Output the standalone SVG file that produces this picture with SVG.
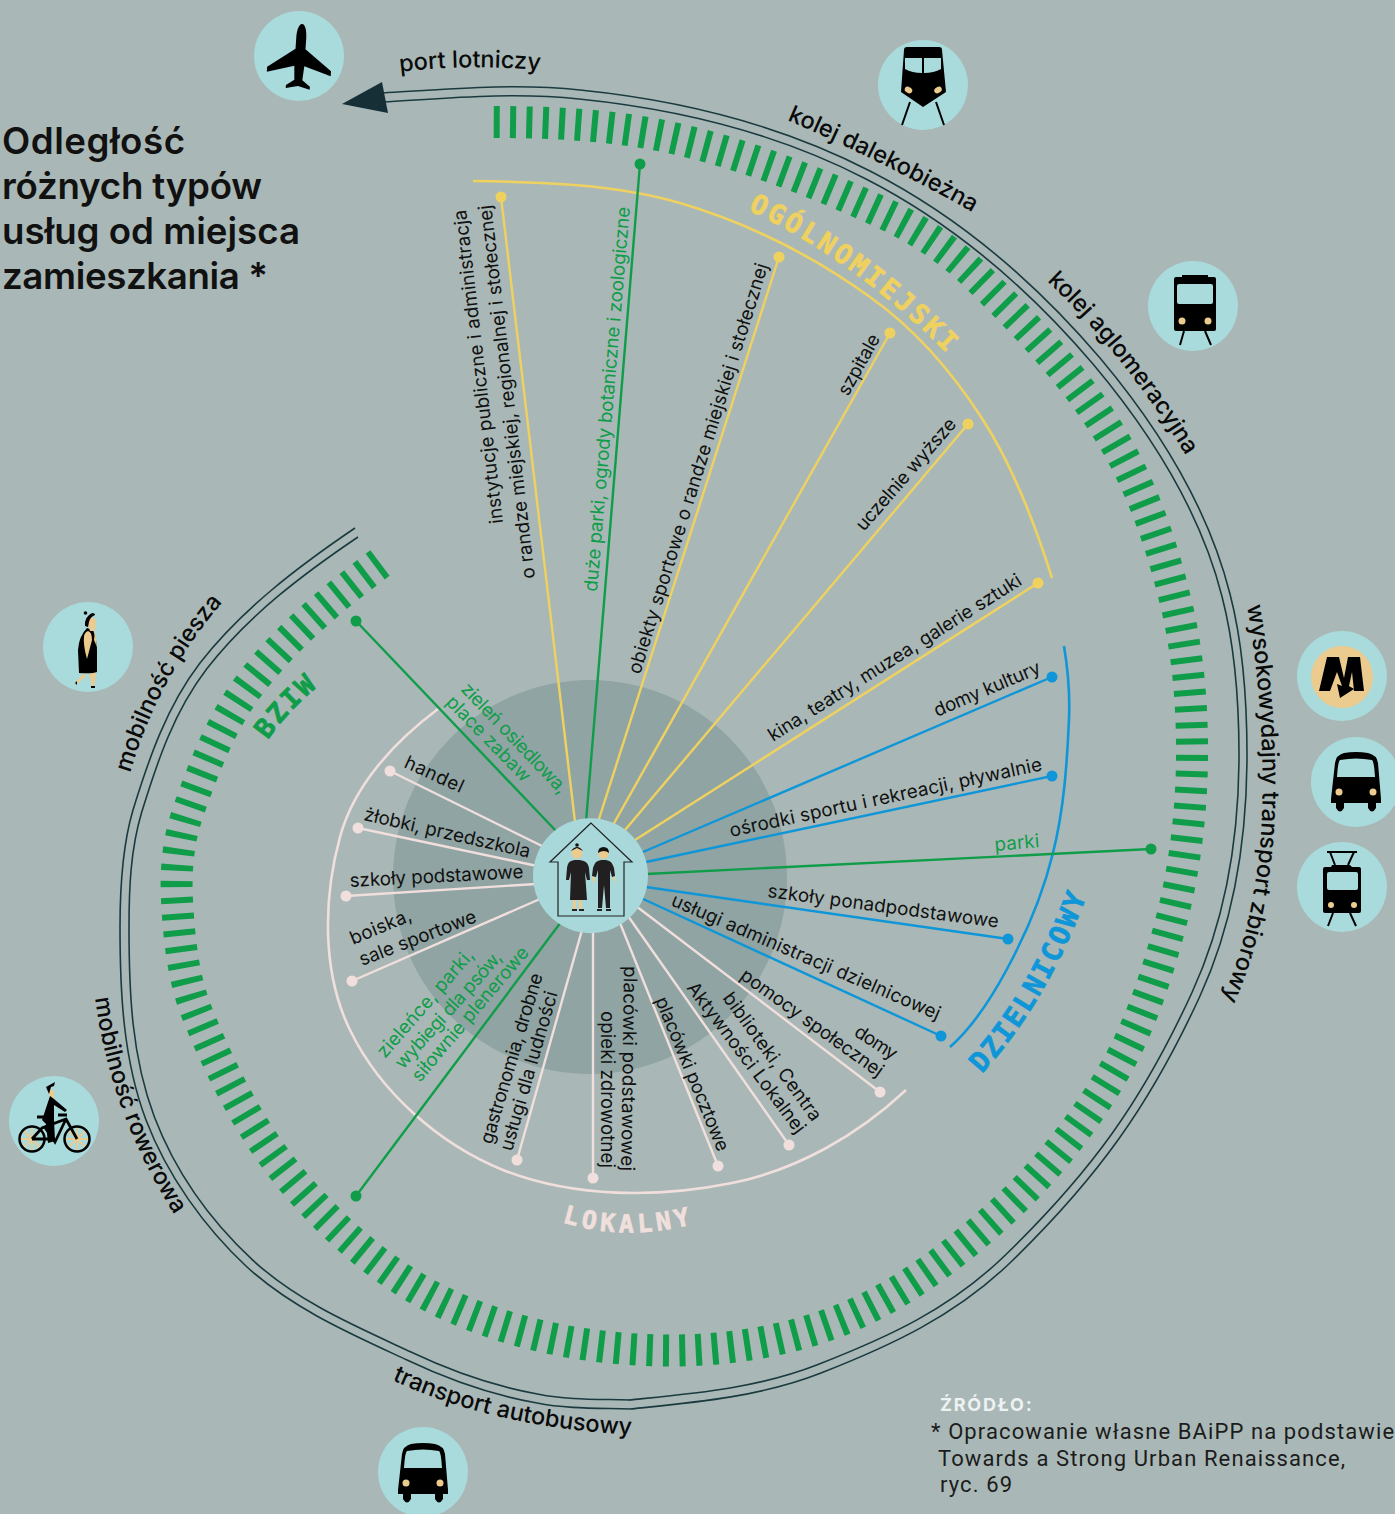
<svg xmlns="http://www.w3.org/2000/svg" width="1395" height="1514" viewBox="0 0 1395 1514">
<style>
text{font-family:"Inter","Noto Sans","Liberation Sans",sans-serif}
.l{font-size:18.8px;fill:#111}
.g{font-size:18.8px;fill:#0f9d4a}
.c{font-size:23.5px;fill:#0a0a0a;font-weight:500}
.t{font-size:36.7px;font-weight:600;fill:#111}
.r{font-family:"DejaVu Sans Mono","Liberation Mono",monospace;font-weight:700;stroke-width:.7}
.s{font-family:"Roboto","Liberation Sans",sans-serif;font-size:22px;fill:#1c1c1c;letter-spacing:1.1px}
.tr{fill:none;stroke:#1b3a40;stroke-width:1.6}
.cn line{stroke-width:2.4}
.ye{stroke:#efd160}.gr{stroke:#0f9d4a}.bl{stroke:#0f96d8}.pi{stroke:#f0dfdc}
.dy{fill:#efd160}.dg{fill:#0f9d4a}.db{fill:#0f96d8}.dp{fill:#f0dfdc}
.ic{fill:#a9dadc}.la{fill:#eccb8e}.k{fill:#000}
.kl{stroke:#000;stroke-width:2;fill:none}
</style>
<defs>
<path id="p-port" d="M400 72Q470 63 546 71"/>
<path id="p-dal" d="M787 120Q885 162 988 221"/>
<path id="p-agl" d="M1047 281Q1130 360 1196 472"/>
<path id="p-wys" d="M1247 606C1262 690 1268 800 1257 870C1250 920 1240 960 1220 1004"/>
<path id="p-pie" d="M130 773Q160 672 228 596"/>
<path id="p-row" d="M95 998Q112 1125 186 1232"/>
<path id="p-bus" d="M392 1380Q500 1430 642 1435"/>
<path id="p-ogo" d="M748 210Q860 263 955 362"/>
<path id="p-bzi" d="M268 740Q290 708 326 680"/>
<path id="p-lok" d="M562 1222Q628 1243 700 1222"/>
<path id="p-dzi" d="M982 1074Q1048 1002 1088 892"/>
<g id="bus">
<path class="k" d="M-25 22L-25 18L-21 -18Q-20 -26 -12 -28Q0 -30 12 -28Q21 -26 22 -18L25 18L25 22L20 22L20 27Q16 34 12 27L12 22L-12 22L-12 27Q-16 34 -20 27L-20 22Z"/>
<path class="ic" d="M-16 -21Q0 -24 16 -21Q18 -20 19 -4L-19 -4Q-18 -20 -16 -21Z"/>
<circle class="la" cx="-17" cy="11" r="3.5"/><circle class="la" cx="17" cy="11" r="3.5"/>
</g>
</defs>
<rect width="1395" height="1514" fill="#a9b8b6"/>
<circle id="inner-zone" cx="590" cy="877" r="197" fill="#90a4a3"/>

<g id="rings" fill="none">
<path id="ring" stroke="#0f9d4a" stroke-width="32" stroke-dasharray="6 10.3" d="M380 563C333 598 287 636 251 683C221 722 203 769 187 815C178 842 175.500 871 177 900C179 938 183 978 197 1013C221 1072 251 1131 292 1180C333 1229 384 1274 442 1302C505 1332 576 1347 646 1350C712 1353 780 1344 841 1320C903 1295 957 1253 1006 1208C1049 1168 1087 1119 1116 1068C1142 1022 1159 969 1172 918C1185 867 1191.500 812 1192 759C1192.500 705 1188 651 1175 599C1161 542 1141 484 1110 434C1074 375 1026 325 977 277C950 250 918 229 883 213C816 182 745 154 673 138C615 125 553 122 491 122"/>
<path class="tr" d="M383 93C449 89 515 83 580 90C679 100 781 125 870 171C958 216 1036 283 1100 358C1158 427 1208 507 1230 594C1243.500 646 1247 701 1247 755C1247 837 1234 922 1200 996C1150 1105 1098 1177 1013 1260C956 1316 890 1346 821 1373C760 1397 694 1402.500 630 1409"/>
<path class="tr" d="M383.500 102C449.500 98 514 92 579 99C678 109 777 133 866 179C954 224 1029 289 1093 364C1151 433 1200 509.500 1222 596.500C1235.500 648.500 1239 701 1239 755C1239 837 1226 918.500 1192 992.500C1142 1101.500 1092 1170.500 1007 1253.500C950 1309.500 887 1337.500 818 1364.500C757 1388.500 693 1393.500 629 1400"/>
<path class="tr" d="M355 528C299 566 242 609 200 663C167 706 149 758 133 810C122 847 120 888 120 927C120 992 123 1059 146 1120C167 1175 204 1227 247 1267C293 1309 351 1334 407 1360C449 1380 492 1395 537 1403C567 1409 599 1408 630 1409"/>
<path class="tr" d="M358 537C304 573.500 249 614.600 207 668.600C174 711.600 157.600 760.600 141.600 812.600C130.600 849.600 129 888 129 927C129 992 131.400 1056 154.400 1117C175.400 1172 210 1220.400 253 1260.400C299 1302.400 355 1326 411 1352C453 1372 493.600 1386.200 538.600 1394.200C568.600 1400.200 599 1399 630 1400"/>
<path stroke="#efd160" stroke-width="2.6" d="M473 181C542 182 614 184 680 203C748 223 813 256 870 297C915 329 953 373 983 420C1014 468 1035 524 1052 578"/>
<path stroke="#0f96d8" stroke-width="2.6" d="M1064 646C1068 670 1070 695 1069 719C1067 764 1064 809 1053 853C1043 894 1027 932 1007 969C992 997 974 1026 950 1047"/>
<path stroke="#f0dfdc" stroke-width="2.6" d="M438 709C395 741 354 785 340 837C323 899 322 973 350 1030C380 1092 439 1144 503 1170C574 1198 658 1198 732 1183C797 1170 858 1135 906 1090"/>
</g>
<path id="arrowhead" d="M342 104L382 82L388 113Z" fill="#162f37"/>

<g id="connectors" class="cn">
<line class="ye" x1="501" y1="197" x2="575" y2="822"/>
<line class="gr" x1="640" y1="164" x2="586" y2="822"/>
<line class="ye" x1="779" y1="257" x2="598" y2="822"/>
<line class="ye" x1="890" y1="333" x2="613" y2="825"/>
<line class="ye" x1="968" y1="424" x2="625" y2="830"/>
<line class="ye" x1="1038" y1="583" x2="635" y2="840"/>
<line class="bl" x1="1052" y1="677" x2="643" y2="852"/>
<line class="bl" x1="1052" y1="776" x2="646" y2="862"/>
<line class="gr" x1="1151" y1="849" x2="646" y2="874"/>
<line class="bl" x1="1008" y1="939" x2="646" y2="887"/>
<line class="bl" x1="941" y1="1036" x2="641" y2="898"/>
<line class="pi" x1="880" y1="1092" x2="636" y2="906"/>
<line class="pi" x1="789" y1="1145" x2="628" y2="916"/>
<line class="pi" x1="718" y1="1166" x2="620" y2="923"/>
<line class="pi" x1="593" y1="1178" x2="593" y2="930"/>
<line class="pi" x1="517" y1="1160" x2="582" y2="930"/>
<line class="gr" x1="356" y1="1196" x2="561" y2="922"/>
<line class="pi" x1="352" y1="981" x2="540" y2="899"/>
<line class="pi" x1="346" y1="896" x2="536" y2="884"/>
<line class="pi" x1="358" y1="828" x2="537" y2="866"/>
<line class="pi" x1="390" y1="771" x2="544" y2="847"/>
<line class="gr" x1="356" y1="621" x2="557" y2="832"/>
</g>

<g id="title"><text class="t" x="2" y="154" textLength="183">Odległość</text><text class="t" x="2" y="199" textLength="260">różnych typów</text><text class="t" x="2" y="244" textLength="298">usług od miejsca</text><text class="t" x="2" y="289" textLength="266">zamieszkania *</text></g>

<g id="n-instytucje"><circle class="dy" cx="501" cy="197" r="5.5"/><text class="l" textLength="316" transform="translate(503 523) rotate(-96.7)">instytucje publiczne i administracja</text><text class="l" textLength="376" transform="translate(535 578) rotate(-96.7)">o randze miejskiej, regionalnej i stołecznej</text></g>
<g id="n-parki-duze"><circle class="dg" cx="640" cy="164" r="5.5"/><text class="g" textLength="386" transform="translate(597 592) rotate(-85.1)">duże parki, ogrody botaniczne i zoologiczne</text></g>
<g id="n-obiekty"><circle class="dy" cx="779" cy="257" r="5.5"/><text class="l" textLength="429" transform="translate(640 675) rotate(-72.6)">obiekty sportowe o randze miejskiej  i stołecznej</text></g>
<g id="n-szpitale"><circle class="dy" cx="890" cy="333" r="5.5"/><text class="l" textLength="67" transform="translate(848 397) rotate(-60.8)">szpitale</text></g>
<g id="n-uczelnie"><circle class="dy" cx="968" cy="424" r="5.5"/><text class="l" textLength="142" transform="translate(864 532) rotate(-49)">uczelnie wyższe</text></g>
<g id="n-kina"><circle class="dy" cx="1038" cy="583" r="5.5"/><text class="l" textLength="296" transform="translate(773 742) rotate(-32.3)">kina, teatry, muzea, galerie sztuki</text></g>
<g id="n-domy-kultury"><circle class="db" cx="1052" cy="677" r="5.5"/><text class="l" textLength="114" transform="translate(937 717) rotate(-23)">domy kultury</text></g>
<g id="n-osrodki"><circle class="db" cx="1052" cy="776" r="5.5"/><text class="l" textLength="319" transform="translate(731 837) rotate(-12.1)">ośrodki sportu i rekreacji, pływalnie</text></g>
<g id="n-parki"><circle class="dg" cx="1151" cy="849" r="5.5"/><text class="g" textLength="45" transform="translate(995 851) rotate(-5)">parki</text></g>
<g id="n-szkoly-ponad"><circle class="db" cx="1008" cy="939" r="5.5"/><text class="l" textLength="233" transform="translate(767 897) rotate(7.6)">szkoły ponadpodstawowe</text></g>
<g id="n-uslugi-adm"><circle class="db" cx="941" cy="1036" r="5.5"/><text class="l" textLength="291" transform="translate(670 905) rotate(23.3)">usługi administracji dzielnicowej</text></g>
<g id="n-domy-pomocy"><circle class="dp" cx="880" cy="1092" r="5.5"/><text class="l" textLength="47" transform="translate(853 1035) rotate(33)">domy</text><text class="l" textLength="171" transform="translate(739 978) rotate(35.7)">pomocy społecznej</text></g>
<g id="n-biblioteki"><circle class="dp" cx="789" cy="1145" r="5.5"/><text class="l" textLength="154" transform="translate(722 998) rotate(54)">biblioteki, Centra</text><text class="l" textLength="184" transform="translate(686 988) rotate(53)">Aktywności Lokalnej</text></g>
<g id="n-poczta"><circle class="dp" cx="718" cy="1166" r="5.5"/><text class="l" textLength="165" transform="translate(655 1000) rotate(67.6)">placówki pocztowe</text></g>
<g id="n-zdrowie"><circle class="dp" cx="593" cy="1178" r="5.5"/><text class="l" textLength="205" transform="translate(624 966) rotate(90.8)">placówki podstawowej</text><text class="l" textLength="157" transform="translate(601 1011) rotate(90)">opieki zdrowotnej</text></g>
<g id="n-gastronomia"><circle class="dp" cx="517" cy="1160" r="5.5"/><text class="l" textLength="177" transform="translate(492 1145) rotate(-73.3)">gastronomia, drobne</text><text class="l" textLength="165" transform="translate(512 1152) rotate(-73.9)">usługi dla ludności</text></g>
<g id="n-zielence"><circle class="dg" cx="356" cy="1196" r="5.5"/><text class="g" textLength="137" transform="translate(385 1059) rotate(-49)">zieleńce, parki,</text><text class="g" textLength="150" transform="translate(403 1070) rotate(-48.2)">wybiegi dla psów,</text><text class="g" textLength="170" transform="translate(420 1083) rotate(-49.8)">siłownie plenerowe</text></g>
<g id="n-boiska"><circle class="dp" cx="352" cy="981" r="5.5"/><text class="l" textLength="65" transform="translate(353 945) rotate(-22.6)">boiska,</text><text class="l" textLength="124" transform="translate(362 966) rotate(-21)">sale sportowe</text></g>
<g id="n-szkoly-podst"><circle class="dp" cx="346" cy="896" r="5.5"/><text class="l" textLength="174" transform="translate(350 887) rotate(-3)">szkoły podstawowe</text></g>
<g id="n-zlobki"><circle class="dp" cx="358" cy="828" r="5.5"/><text class="l" textLength="170" transform="translate(363 820) rotate(12.9)">żłobki, przedszkola</text></g>
<g id="n-handel"><circle class="dp" cx="390" cy="771" r="5.5"/><text class="l" textLength="63" transform="translate(403 767) rotate(24.5)">handel</text></g>
<g id="n-zielen"><circle class="dg" cx="356" cy="621" r="5.5"/><text class="g" textLength="145" transform="translate(460 690) rotate(46.4)">zieleń osiedlowa,</text><text class="g" textLength="112" transform="translate(445 703) rotate(45.7)">place zabaw</text></g>

<g id="zone-labels">
<text class="r" font-size="27" fill="#efd160" stroke="#efd160" letter-spacing="2.900"><textPath href="#p-ogo">OGÓLNOMIEJSKI</textPath></text>
<text class="r" font-size="27" fill="#0f9d4a" stroke="#0f9d4a" letter-spacing="2.500"><textPath href="#p-bzi">BZIW</textPath></text>
<text class="r" font-size="25" fill="#f0dfdc" stroke="#f0dfdc" letter-spacing="4.200"><textPath href="#p-lok">LOKALNY</textPath></text>
<text class="r" font-size="28" fill="#0f96d8" stroke="#0f96d8" letter-spacing="2.200"><textPath href="#p-dzi">DZIELNICOWY</textPath></text>
</g>

<g id="mode-labels">
<text class="c"><textPath href="#p-port">port lotniczy</textPath></text>
<text class="c"><textPath href="#p-dal">kolej dalekobieżna</textPath></text>
<text class="c"><textPath href="#p-agl">kolej aglomeracyjna</textPath></text>
<text class="c"><textPath href="#p-wys">wysokowydajny transport zbiorowy</textPath></text>
<text class="c"><textPath href="#p-pie">mobilność piesza</textPath></text>
<text class="c"><textPath href="#p-row">mobilność rowerowa</textPath></text>
<text class="c"><textPath href="#p-bus">transport autobusowy</textPath></text>
</g>

<g id="home">
<circle cx="590.5" cy="875.7" r="57.5" fill="#a9d8da"/>
<path d="M591 823L550 862L558 862L558 916L624 916L624 862L632 862Z" fill="none" stroke="#222" stroke-width="1.2"/>
<circle class="la" cx="577" cy="853" r="5.5"/><circle cx="577" cy="845" r="1.8" fill="#111"/><path d="M571 851Q577 843 583 851L577 848Z" fill="#111"/>
<path d="M577 860C570 860 568 862 567 868L566 880L569 880L571 872L570 900L587 900L585 872L587 880L590 880L589 868C588 862 584 860 577 860Z" fill="#221f20"/>
<path class="la" d="M573 900H576V909H573ZM579 900H582V909H579Z"/><path d="M572 909H577V911H572ZM579 909H584V911H579Z" fill="#222"/>
<circle class="la" cx="603.5" cy="854" r="5"/><path d="M598 853Q598 847 603.5 847Q609 847 609 853Q604 849 598 853Z" fill="#111"/>
<path d="M603.5 860C597 860 595 862 593 868L592 876L596 877L598 870L598 880L598 908H602L604 885L606 908H610L610 880L610 870L612 877L615 876L614 868C612 862 610 860 603.5 860Z" fill="#221f20"/>
<path class="la" d="M592 877L595.5 877L593 884ZM612 877L615 877L616 884Z"/><path d="M597 909H602V911H597ZM606 909H611V911H606Z" fill="#222"/>
</g>

<g id="icon-plane"><circle class="ic" cx="299" cy="56" r="45"/><path class="k" transform="translate(300 56) rotate(4)" d="M0-32C3-32 5-26 5-18L5-7L32 13L32 18L5 10L4 24L12 30L12 33L0 30L-12 33L-12 30L-4 24L-5 10L-32 18L-32 13L-5-7L-5-18C-5-26-3-32 0-32Z"/></g>
<g id="icon-train"><circle class="ic" cx="923" cy="85" r="45"/>
<path class="k" d="M907 47H939Q942 47 942 50L946 92L923 107L901 92L904 50Q904 47 907 47Z"/>
<path class="ic" d="M905 58H922V73Q912 73 905 69ZM924 58H941V69Q934 73 924 73Z"/>
<ellipse class="la" cx="908.5" cy="90" rx="4" ry="3" transform="rotate(30 908.5 90)"/><ellipse class="la" cx="938" cy="90" rx="4" ry="3" transform="rotate(-30 938 90)"/>
<path class="kl" d="M910 102L902 125M936 102L944 125"/></g>
<g id="icon-train2"><circle class="ic" cx="1193" cy="306" r="45"/>
<path class="k" d="M1182 277V275H1208V277H1214Q1216 277 1216 279V329Q1216 331 1214 331H1176Q1174 331 1174 329V279Q1174 277 1176 277Z"/>
<rect class="ic" x="1177" y="284" width="36" height="20" rx="2"/><circle class="la" cx="1182" cy="321" r="3.5"/><circle class="la" cx="1208" cy="321" r="3.5"/>
<path class="kl" d="M1184 331L1180 345M1205 331L1211 345"/></g>
<g id="icon-metro"><circle class="ic" cx="1342" cy="676" r="45"/><circle class="la" cx="1342" cy="677" r="31"/>
<path class="k" d="M1319 691L1327 657H1339L1344 678L1348 657H1360L1364 691H1354L1352 672L1349 686L1354 689L1340 698L1337 684L1342 686L1337 672L1330 691Z"/></g>
<g id="icon-bus"><circle class="ic" cx="1356" cy="782" r="45"/><use href="#bus" x="1356" y="781"/></g>
<g id="icon-tram"><circle class="ic" cx="1342" cy="887" r="45"/>
<path class="kl" d="M1327 852H1357M1330 852L1335 865M1354 852L1348 865M1333 913L1328 926M1350 913L1356 926"/>
<path class="k" d="M1332 865H1350L1352 867H1359Q1361 867 1361 869V911Q1361 913 1359 913H1325Q1323 913 1323 911V869Q1323 867 1325 867H1331Z"/>
<rect class="ic" x="1327" y="872" width="31" height="18" rx="2"/><circle class="la" cx="1331" cy="905" r="3"/><circle class="la" cx="1354" cy="905" r="3"/></g>
<g id="icon-bus2"><circle class="ic" cx="423" cy="1472" r="45"/><use href="#bus" x="423" y="1472"/></g>
<g id="icon-walk"><circle class="ic" cx="88" cy="647" r="45"/>
<path class="la" d="M84 673L76 682L77 684L86 676ZM89 673L92 687H94L96 673Z"/>
<path class="k" d="M87 628L93 630Q97 640 97 650V672Q92 674 79 673L78 650Q79 636 87 628Z"/>
<path class="la" d="M88 631Q92 632 92 640L87 659Q83 645 84 636Q85 632 88 631ZM95 630L97 647L94 640ZM86 617Q96 616 96 622L95 631L90 631Z"/>
<path class="k" d="M85 626Q84 617 92 613Q95 613 95 615Q90 617 89 622L88 627Z"/><circle class="k" cx="85.500" cy="613" r="1.800"/><path class="k" d="M75 683L77 681L77 685ZM91 686H95V688H91Z"/></g>
<g id="icon-bike"><circle class="ic" cx="54" cy="1121" r="45"/>
<path d="M32 1128V1150M21 1139H43M24 1131L40 1147M40 1131L24 1147M77 1128V1150M66 1139H88M69 1131L85 1147M85 1131L69 1147" stroke="#eccb8e" stroke-width="1.800"/>
<circle cx="32" cy="1139" r="12.500" fill="none" stroke="#000" stroke-width="2.500"/><circle cx="77" cy="1139" r="12.500" fill="none" stroke="#000" stroke-width="2.500"/>
<path d="M32 1139L42 1128L66 1119L77 1139M44 1126L55 1142L66 1119M32 1139H55M37 1117H47M58 1115H67" fill="none" stroke="#000" stroke-width="2.800"/>
<path class="la" d="M48 1090H54L54 1098H50Z"/>
<path class="k" d="M46 1087L55 1082L54 1086L51 1087L49 1094Z"/>
<path class="k" d="M50 1096L54 1099L67 1110L65 1112L54 1105L54 1120L55 1141L48 1143L46 1124L42 1120Z"/></g>

<g id="source">
<text x="940" y="1411" font-family="Roboto,'Liberation Sans',sans-serif" font-size="18" font-weight="700" fill="#eef2f2" letter-spacing="1.800">ŹRÓDŁO:</text>
<text class="s" x="931" y="1439">* Opracowanie własne BAiPP na podstawie</text>
<text class="s" x="938" y="1466">Towards a Strong Urban Renaissance,</text>
<text class="s" x="940" y="1492">ryc. 69</text>
</g>
</svg>
